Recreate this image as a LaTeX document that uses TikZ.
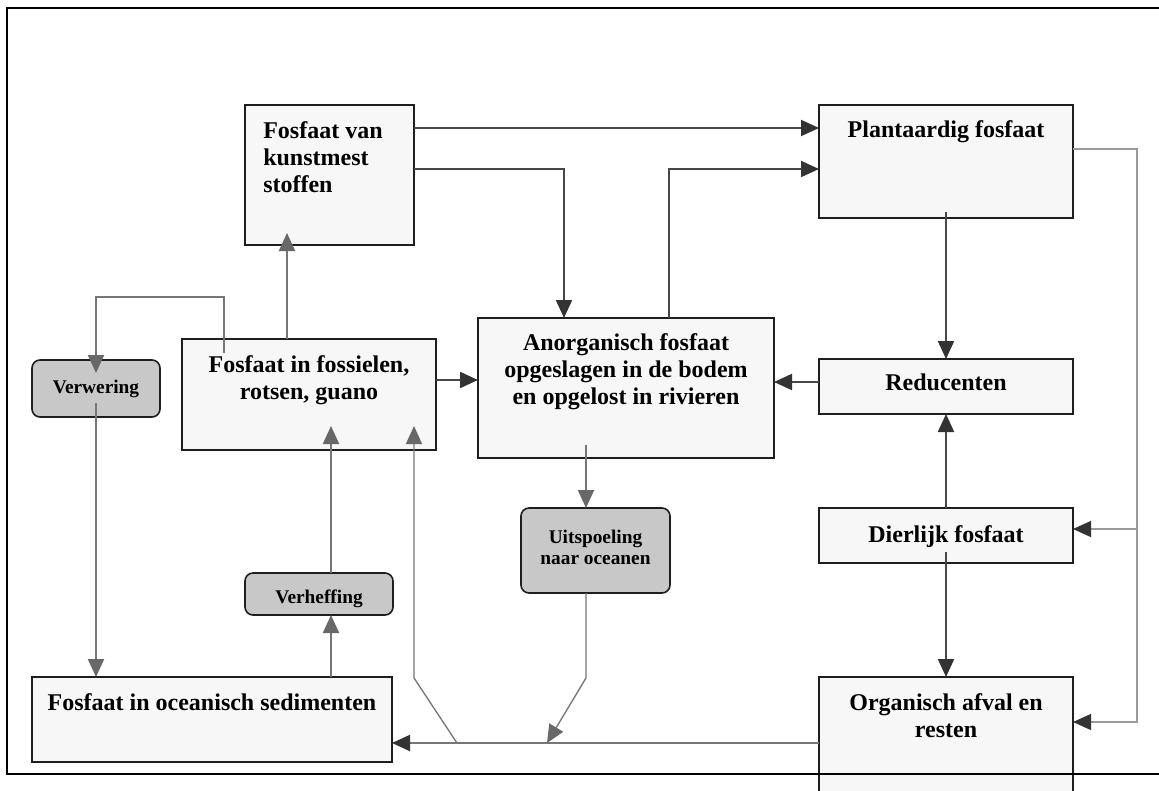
\documentclass[tikz,border=0pt]{standalone}
\usepackage{fontspec}
\setmainfont{Liberation Serif}
\usetikzlibrary{arrows.meta,calc}

\definecolor{boxfill}{HTML}{F7F7F7}
\definecolor{procfill}{HTML}{C8C8C8}
\definecolor{edge}{HTML}{1E1E1E}
\definecolor{darkln}{HTML}{474747}
\definecolor{darkhd}{HTML}{333333}
\definecolor{grayln}{HTML}{767676}
\definecolor{grayhd}{HTML}{686868}
\definecolor{thinln}{HTML}{9A9A9A}

\begin{document}
\begin{tikzpicture}[x=0.75pt,y=-0.75pt,
  stock/.style 2 args={draw=edge, fill=boxfill, line width=1.5pt,
    minimum width=#1*0.75pt, minimum height=#2*0.75pt, inner sep=0pt, outer sep=0pt},
  proc/.style 2 args={draw=edge, fill=procfill, line width=1.2pt, rounded corners=6pt,
    minimum width=#1*0.75pt, minimum height=#2*0.75pt, inner sep=0pt, outer sep=0pt},
  big/.style={font=\fontsize{18}{20.25}\selectfont\bfseries, inner sep=0pt, align=center},
  small/.style={font=\fontsize{14.5}{15.75}\selectfont\bfseries, inner sep=0pt, align=center},
  tip/.style={-{Triangle[length=13.5pt,width=12pt,color=#1]}},
  darr/.style={draw=darkln, line width=1.5pt, tip=darkhd},
  garr/.style={draw=grayln, line width=1.5pt, tip=grayhd},
  tarr/.style={draw=grayln, line width=1pt, tip=grayhd},
  rarr/.style={draw=thinln, line width=0.9pt, tip=darkhd},
]
\path[use as bounding box] (0,0) rectangle (1159,790);
\clip (0,0) rectangle (1159,790);
\fill[white] (0,0) rectangle (1159,790);

% stocks of phosphate
\node[stock={169}{140}] (kunst) at (329.5,175) {};
\node[stock={254}{113}] (plant) at (946,161.5) {};
\node[stock={254}{111}] (fos)   at (309,394.5) {};
\node[stock={296}{140}] (anorg) at (626,388) {};
\node[stock={254}{55}]  (red)   at (946,386.5) {};
\node[stock={254}{55}]  (dier)  at (946,535.5) {};
\node[stock={360}{85}]  (ocean) at (212,719.5) {};
\node[stock={254}{160}] (org)   at (946,757) {};

% processes
\node[proc={128}{57}] (verw)  at (96,388.5) {};
\node[proc={149}{85}] (uitsp) at (595.5,550.5) {};
\node[proc={148}{42}] (verh)  at (319,594) {};

% labels (base = baseline of the last line)
\node[big, align=left, anchor=base west] (kunst-t) at (263,192) {Fosfaat van\\kunstmest\\stoffen};
\node[big, anchor=base] (plant-t) at (946,137) {Plantaardig fosfaat};
\node[big, anchor=base] (fos-t)   at (309,399) {Fosfaat in fossielen,\\rotsen, guano};
\node[big, anchor=base] (anorg-t) at (626,404) {Anorganisch fosfaat\\opgeslagen in de bodem\\en opgelost in rivieren};
\node[big, anchor=base] (red-t)   at (946,390) {Reducenten};
\node[big, anchor=base] (dier-t)  at (946,542) {Dierlijk fosfaat};
\node[big, anchor=base] (ocean-t) at (212,710) {Fosfaat in oceanisch sedimenten};
\node[big, anchor=base] (org-t)   at (946,737) {Organisch afval en\\resten};
\node[small, anchor=base] (verw-t)  at (96,393) {Verwering};
\node[small, anchor=base] (uitsp-t) at (595.5,564) {Uitspoeling\\naar oceanen};
\node[small, anchor=base] (verh-t)  at (319,603) {Verheffing};

% junctions on the shared bottom line
\coordinate (j1) at (457,743);
\coordinate (j2) at (547,743);
\coordinate (riser) at (1137,149);

% flows
\draw[darr] (kunst.east |- 0,128) -- (plant.west |- 0,128);
\draw[darr] (kunst.east |- 0,169) -| (564,0 |- anorg.north);
\draw[darr] (669,0 |- anorg.north) |- (plant.west |- 0,169);
\draw[garr] (287,0 |- fos.north) -- ($(287,0 |- kunst.south)+(0,-12)$);
\draw[garr] ($(fos.north west)+(42,14)$) |- (96,297) -- ($(verw.north)+(0,13)$);
\draw[garr] ($(verw.north)+(0,43)$) -- (verw.north |- ocean.north);
\draw[darr] (fos.east |- 0,380) -- (anorg.west |- 0,380);
\draw[garr] (331,0 |- ocean.north) -- (331,0 |- verh.south);
\draw[garr] (331,0 |- verh.north) -- ($(331,0 |- fos.south)+(0,-24)$);
\draw[garr, tip=darkhd] (org.west |- 0,743) -- (ocean.east |- 0,743);
\draw[tarr] (j1) -- (414,678) -- ($(414,0 |- fos.south)+(0,-24)$);
\draw[garr] ($(586,0 |- anorg.south)+(0,-13)$) -- (586,0 |- uitsp.north);
\draw[tarr] (586,0 |- uitsp.south) -- (586,678) -- (j2);
\draw[darr] (red.west |- 0,382) -- (anorg.east |- 0,382);
\draw[darr] ($(plant.south)+(0,-6)$) -- (red.north);
\draw[darr] (dier.north) -- (red.south);
\draw[darr] ($(dier.south)+(0,-11)$) -- (org.north);
\draw[rarr] (plant.east |- riser) -- (riser) -- (riser |- 0,722) -- (org.east |- 0,722);
\draw[rarr] (riser |- 0,529) -- (dier.east |- 0,529);

% outer frame
\draw[line width=1.5pt, black] (1165,8) -- (7,8) -- (7,774) -- (1165,774);
\end{tikzpicture}
\end{document}
